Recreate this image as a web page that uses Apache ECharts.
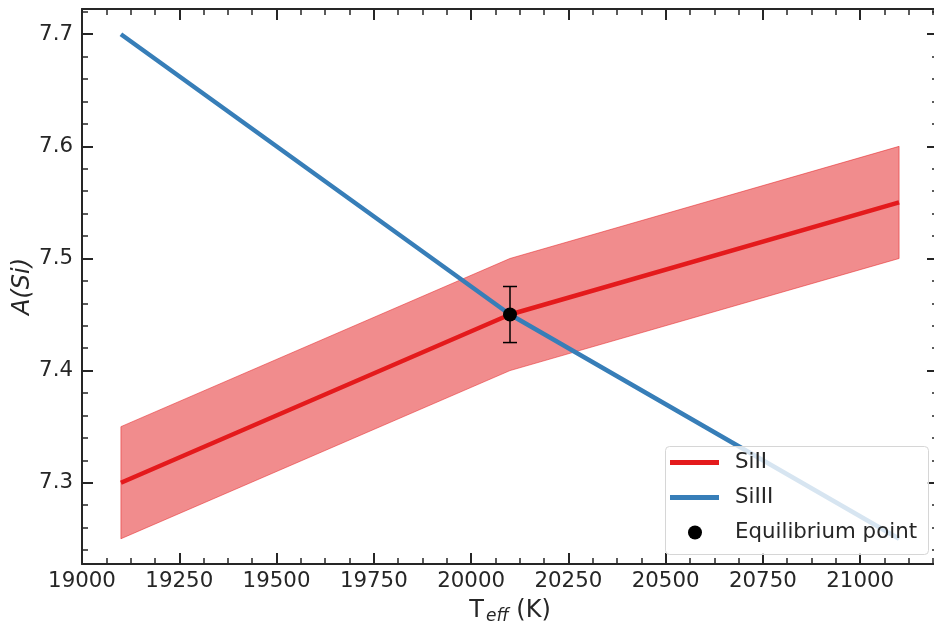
<!DOCTYPE html>
<html><head><meta charset="utf-8">
<script src="https://cdn.jsdelivr.net/npm/echarts@6/dist/echarts.min.js"></script>
<style>html,body{margin:0;padding:0;background:#fff;overflow:hidden}#c{width:934px;height:628px}</style>
</head><body><div id="c"></div>
<script>
var teff = [19100, 20100, 21100];
var siII = [7.30, 7.45, 7.55];
var siIILow = [7.25, 7.40, 7.50];
var siIIHigh = [7.35, 7.50, 7.60];
var siIII = [7.70, 7.45, 7.25];
var eqT = [20100];
var eqA = [7.45];
var eqErr = [0.025];
var xMajor = [19000, 19250, 19500, 19750, 20000, 20250, 20500, 20750, 21000];
var yMajor = [7.3, 7.4, 7.5, 7.6, 7.7];
var xMinor = [];
for (var i = 0; i < 9; i++) for (var k = 1; k < 4; k++) { var v = 19000 + i * 250 + k * 62.5; if (v < 21200) xMinor.push(v); }
var yMinor = [];
for (var j = 0; j < 6; j++) for (var m = 1; m < 5; m++) { var w = +(7.2 + j * 0.1 + m * 0.02).toFixed(3); if (w > 7.2275 && w < 7.7225) yMinor.push(w); }

var XMIN = 19000, XMAX = 21200, YMIN = 7.2275, YMAX = 7.7225;
var AX = '#262626';
var FONT = 'DejaVu Sans';
var FS = 21.33;

function xAx(pos, ticks, len, width, labels, line, name) {
  var a = {
    type: 'value', position: pos, min: XMIN, max: XMAX, gridIndex: 0, offset: 0,
    axisLine: {show: line, onZero: false, lineStyle: {color: AX, width: 2}},
    axisTick: {show: true, inside: true, length: len, customValues: ticks, lineStyle: {color: AX, width: width}},
    axisLabel: {show: labels, customValues: ticks, fontSize: FS, color: AX, fontFamily: FONT, margin: 7,
      formatter: function (v) { return String(Math.round(v)); }},
    splitLine: {show: false}
  };
  if (name) {
    a.name = '{a|T}{b|eff}{a| (K)}';
    a.nameLocation = 'middle';
    a.nameGap = 33;
    a.nameMoveOverlap = false;
    a.nameTextStyle = {rich: {
      a: {fontSize: 24, fontFamily: FONT, color: AX},
      b: {fontSize: 17, fontFamily: FONT, fontStyle: 'italic', color: AX, padding: [11, 0, 0, 2]}
    }};
  }
  return a;
}
function yAx(pos, ticks, len, width, labels, line, name) {
  var a = {
    type: 'value', position: pos, min: YMIN, max: YMAX, gridIndex: 0, offset: 0,
    axisLine: {show: line, onZero: false, lineStyle: {color: AX, width: 2}},
    axisTick: {show: true, inside: true, length: len, customValues: ticks, lineStyle: {color: AX, width: width}},
    axisLabel: {show: labels, customValues: ticks, fontSize: FS, color: AX, fontFamily: FONT, margin: 9,
      formatter: function (v) { return v.toFixed(1); }},
    splitLine: {show: false}
  };
  if (name) {
    a.name = 'A(Si)';
    a.nameLocation = 'middle';
    a.nameGap = 47;
    a.nameMoveOverlap = false;
    a.nameTextStyle = {fontSize: 24, fontFamily: FONT, fontStyle: 'italic', color: AX};
  }
  return a;
}

var chart = echarts.init(document.getElementById('c'), null, {renderer: 'canvas'});
chart.setOption({
  animation: false,
  backgroundColor: '#fff',
  grid: {left: 82, top: 9, width: 856, height: 555, containLabel: false, outerBoundsMode: 'none'},
  xAxis: [
    xAx('bottom', xMajor, 11, 2, true, true, true),
    xAx('bottom', xMinor, 6, 1.5, false, false, false),
    xAx('top', xMajor, 11, 2, false, true, false),
    xAx('top', xMinor, 6, 1.5, false, false, false)
  ],
  yAxis: [
    yAx('left', yMajor, 11, 2, true, true, true),
    yAx('left', yMinor, 6, 1.5, false, false, false),
    yAx('right', yMajor, 11, 2, false, false, false),
    yAx('right', yMinor, 6, 1.5, false, false, false)
  ],
  legend: [{
    data: ['SiII', 'SiIII'], orient: 'vertical', left: 670, top: 452, padding: 0,
    icon: 'rect', itemWidth: 49, itemHeight: 5, itemGap: 14, z: 20,
    textStyle: {fontSize: FS, fontFamily: FONT, color: AX, padding: [0, 0, 0, 11]}
  }, {
    data: ['Equilibrium point'], orient: 'vertical', left: 688, top: 522, padding: 0,
    icon: 'circle', itemWidth: 14, itemHeight: 14, z: 20,
    itemStyle: {opacity: 1},
    textStyle: {fontSize: FS, fontFamily: FONT, color: AX, padding: [0, 0, 0, 28]}
  }],
  graphic: [{
    type: 'rect', z: 15, left: 665, top: 446,
    shape: {width: 263, height: 108, r: 4},
    style: {fill: 'rgba(255,255,255,0.8)', stroke: '#d6d6d6', lineWidth: 1}
  }],
  series: [
    {
      type: 'custom', name: 'band', xAxisIndex: 0, yAxisIndex: 0, z: 1, silent: true,
      data: teff.map(function (t, i) { return [t, siIILow[i], siIIHigh[i]]; }),
      renderItem: function (params, api) {
        if (params.dataIndex !== 0) return null;
        var pts = [];
        for (var i = 0; i < teff.length; i++) pts.push(api.coord([teff[i], siIIHigh[i]]));
        for (var i2 = teff.length - 1; i2 >= 0; i2--) pts.push(api.coord([teff[i2], siIILow[i2]]));
        return {type: 'polygon', shape: {points: pts},
          style: {fill: 'rgba(228,26,28,0.5)', stroke: 'rgba(228,26,28,0.5)', lineWidth: 1}};
      }
    },
    {
      type: 'line', name: 'SiII', xAxisIndex: 0, yAxisIndex: 0, z: 2, showSymbol: false, symbol: 'none',
      color: '#e41a1c', lineStyle: {color: '#e41a1c', width: 4.5},
      data: teff.map(function (t, i) { return [t, siII[i]]; })
    },
    {
      type: 'line', name: 'SiIII', xAxisIndex: 0, yAxisIndex: 0, z: 3, showSymbol: false, symbol: 'none',
      color: '#377eb8', lineStyle: {color: '#377eb8', width: 4.5},
      data: teff.map(function (t, i) { return [t, siIII[i]]; })
    },
    {
      type: 'custom', name: 'err', xAxisIndex: 0, yAxisIndex: 0, z: 4, silent: true,
      data: eqT.map(function (t, i) { return [t, eqA[i], eqErr[i]]; }),
      renderItem: function (params, api) {
        var x = api.value(0), y = api.value(1), e = api.value(2);
        var top = api.coord([x, y + e]), bot = api.coord([x, y - e]);
        var st = {stroke: '#000', lineWidth: 1.5};
        return {type: 'group', children: [
          {type: 'line', shape: {x1: top[0], y1: top[1], x2: bot[0], y2: bot[1]}, style: st},
          {type: 'line', shape: {x1: top[0] - 7, y1: top[1], x2: top[0] + 7, y2: top[1]}, style: st},
          {type: 'line', shape: {x1: bot[0] - 7, y1: bot[1], x2: bot[0] + 7, y2: bot[1]}, style: st}
        ]};
      }
    },
    {
      type: 'scatter', name: 'Equilibrium point', xAxisIndex: 0, yAxisIndex: 0, z: 5,
      symbol: 'circle', symbolSize: 14, color: '#000', itemStyle: {color: '#000', opacity: 1},
      data: eqT.map(function (t, i) { return [t, eqA[i]]; })
    }
  ]
});
</script></body></html>
